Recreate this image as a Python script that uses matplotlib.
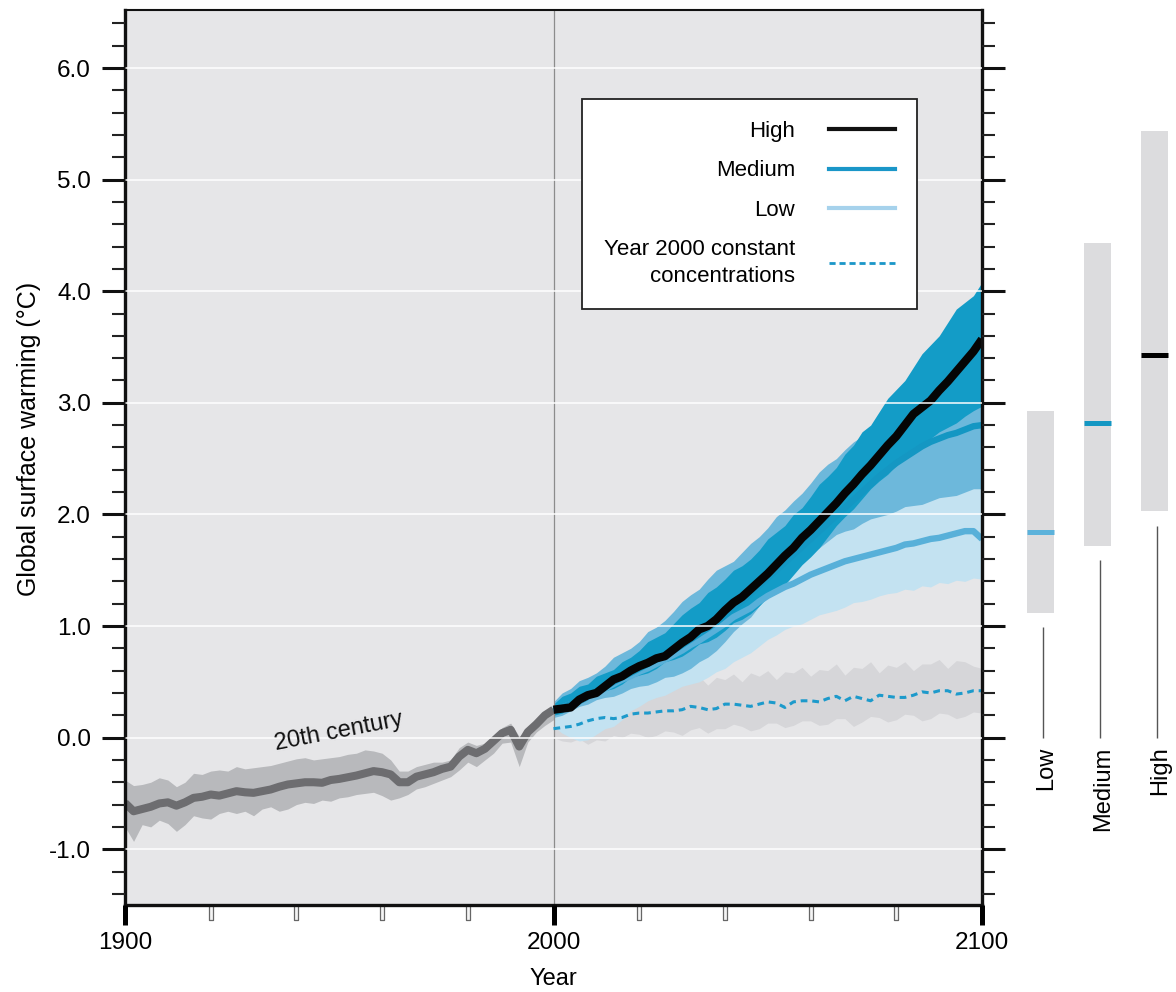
import numpy as np
import matplotlib
matplotlib.use('Agg')
import matplotlib.pyplot as plt
from matplotlib.lines import Line2D
from matplotlib.ticker import MultipleLocator, FixedLocator

plt.rcParams['font.family'] = ['Liberation Sans', 'DejaVu Sans']
plt.rcParams['axes.unicode_minus'] = False

# ---------------- data ----------------
hist_years = list(range(1900, 2001, 2))
hist_mean = [-0.585, -0.66, -0.64, -0.62, -0.59, -0.58, -0.61, -0.58, -0.54, -0.53,
             -0.51, -0.52, -0.50, -0.48, -0.49, -0.495, -0.48, -0.465, -0.44, -0.42,
             -0.41, -0.40, -0.40, -0.405, -0.38, -0.37, -0.355, -0.34, -0.32, -0.30,
             -0.31, -0.33, -0.40, -0.40, -0.35, -0.33, -0.31, -0.28, -0.26, -0.17,
             -0.11, -0.14, -0.10, -0.03, 0.04, 0.07, -0.08, 0.05, 0.12, 0.20,
             0.25]
hist_upper = [-0.38, -0.43, -0.42, -0.40, -0.36, -0.38, -0.44, -0.40, -0.32, -0.33,
              -0.30, -0.29, -0.30, -0.26, -0.28, -0.27, -0.26, -0.25, -0.23, -0.21,
              -0.19, -0.18, -0.20, -0.19, -0.18, -0.17, -0.15, -0.14, -0.11, -0.12,
              -0.14, -0.20, -0.30, -0.30, -0.26, -0.24, -0.22, -0.22, -0.20, -0.09,
              -0.04, -0.07, -0.05, 0.01, 0.09, 0.13, 0.01, 0.09, 0.15, 0.22,
              0.28]
hist_lower = [-0.80, -0.93, -0.78, -0.80, -0.74, -0.77, -0.84, -0.78, -0.70, -0.72,
              -0.73, -0.68, -0.66, -0.68, -0.66, -0.70, -0.64, -0.62, -0.66, -0.64,
              -0.60, -0.58, -0.59, -0.56, -0.57, -0.54, -0.53, -0.51, -0.50, -0.49,
              -0.52, -0.56, -0.54, -0.51, -0.46, -0.44, -0.41, -0.38, -0.35, -0.29,
              -0.22, -0.26, -0.20, -0.14, -0.05, -0.04, -0.26, -0.04, 0.05, 0.11,
              0.16]

proj_years = list(range(2000, 2101, 2))
high_mean = [0.25, 0.26, 0.27, 0.34, 0.38, 0.40, 0.46, 0.52, 0.55, 0.60,
             0.64, 0.67, 0.71, 0.73, 0.79, 0.85, 0.90, 0.97, 1.00, 1.06,
             1.14, 1.21, 1.26, 1.33, 1.40, 1.47, 1.55, 1.63, 1.70, 1.79,
             1.86, 1.94, 2.02, 2.10, 2.19, 2.27, 2.36, 2.44, 2.53, 2.62,
             2.70, 2.80, 2.90, 2.96, 3.02, 3.11, 3.19, 3.28, 3.37, 3.46,
             3.57]
medium_mean = [0.25, 0.27, 0.30, 0.34, 0.38, 0.41, 0.45, 0.50, 0.54, 0.58,
               0.62, 0.66, 0.70, 0.74, 0.78, 0.83, 0.88, 0.93, 0.98, 1.03,
               1.10, 1.16, 1.22, 1.29, 1.36, 1.43, 1.50, 1.57, 1.64, 1.71,
               1.78, 1.85, 1.92, 1.99, 2.06, 2.13, 2.20, 2.27, 2.34, 2.40,
               2.46, 2.51, 2.56, 2.61, 2.65, 2.68, 2.71, 2.73, 2.76, 2.79,
               2.80]
low_mean = [0.25, 0.27, 0.30, 0.33, 0.37, 0.40, 0.44, 0.48, 0.52, 0.55,
            0.59, 0.62, 0.66, 0.70, 0.74, 0.78, 0.83, 0.87, 0.92, 0.97,
            1.02, 1.08, 1.12, 1.16, 1.22, 1.27, 1.31, 1.35, 1.38, 1.42,
            1.46, 1.49, 1.52, 1.55, 1.58, 1.60, 1.62, 1.64, 1.66, 1.68,
            1.70, 1.73, 1.74, 1.76, 1.78, 1.79, 1.81, 1.83, 1.85, 1.85,
            1.78]
const_mean = [0.08, 0.09, 0.10, 0.12, 0.15, 0.17, 0.18, 0.17, 0.18, 0.21,
              0.22, 0.22, 0.23, 0.24, 0.24, 0.25, 0.28, 0.27, 0.25, 0.26,
              0.30, 0.30, 0.29, 0.28, 0.30, 0.32, 0.31, 0.27, 0.32, 0.33,
              0.33, 0.32, 0.35, 0.37, 0.33, 0.37, 0.35, 0.33, 0.38, 0.37,
              0.36, 0.36, 0.38, 0.41, 0.40, 0.42, 0.42, 0.39, 0.40, 0.42,
              0.42]

high_upper = [0.30, 0.37, 0.40, 0.46, 0.48, 0.55, 0.58, 0.61, 0.68, 0.72,
              0.78, 0.86, 0.90, 0.94, 1.02, 1.10, 1.16, 1.21, 1.30, 1.35,
              1.42, 1.50, 1.54, 1.60, 1.68, 1.78, 1.84, 1.90, 2.00, 2.06,
              2.16, 2.27, 2.34, 2.42, 2.54, 2.62, 2.74, 2.80, 2.92, 3.04,
              3.12, 3.20, 3.32, 3.44, 3.52, 3.60, 3.72, 3.84, 3.90, 3.96,
              4.08]
high_lower = [0.20, 0.22, 0.28, 0.30, 0.34, 0.40, 0.42, 0.44, 0.48, 0.54,
              0.56, 0.58, 0.62, 0.68, 0.70, 0.73, 0.78, 0.84, 0.86, 0.90,
              0.96, 1.03, 1.06, 1.11, 1.18, 1.26, 1.32, 1.37, 1.46, 1.55,
              1.62, 1.70, 1.80, 1.90, 1.98, 2.05, 2.14, 2.23, 2.30, 2.36,
              2.44, 2.51, 2.56, 2.61, 2.68, 2.74, 2.78, 2.82, 2.88, 2.93,
              2.97]
medium_upper = [0.32, 0.40, 0.44, 0.51, 0.54, 0.58, 0.64, 0.72, 0.76, 0.80,
                0.86, 0.95, 0.99, 1.05, 1.13, 1.22, 1.28, 1.33, 1.42, 1.50,
                1.54, 1.58, 1.66, 1.74, 1.80, 1.88, 1.98, 2.04, 2.12, 2.19,
                2.28, 2.38, 2.45, 2.50, 2.58, 2.65, 2.70, 2.74, 2.80, 2.86,
                2.90, 2.93, 2.98, 3.03, 3.06, 3.10, 3.14, 3.19, 3.22, 3.26,
                3.30]
medium_lower = [0.18, 0.20, 0.24, 0.28, 0.30, 0.34, 0.36, 0.37, 0.40, 0.44,
                0.46, 0.47, 0.50, 0.54, 0.55, 0.58, 0.62, 0.68, 0.72, 0.78,
                0.86, 0.95, 1.02, 1.08, 1.18, 1.27, 1.34, 1.42, 1.52, 1.58,
                1.66, 1.70, 1.76, 1.82, 1.85, 1.87, 1.92, 1.96, 1.98, 2.00,
                2.03, 2.07, 2.08, 2.09, 2.12, 2.15, 2.16, 2.17, 2.20, 2.23,
                2.23]
low_upper = [0.32, 0.35, 0.38, 0.41, 0.44, 0.47, 0.50, 0.53, 0.56, 0.59,
             0.62, 0.65, 0.68, 0.72, 0.75, 0.78, 0.82, 0.86, 0.90, 0.94,
             0.98, 1.03, 1.08, 1.14, 1.20, 1.28, 1.36, 1.45, 1.54, 1.61,
             1.68, 1.73, 1.78, 1.83, 1.87, 1.91, 1.94, 1.97, 2.00, 2.03,
             2.05, 2.08, 2.10, 2.12, 2.14, 2.16, 2.18, 2.20, 2.22, 2.24,
             2.25]
low_lower = [0.10, 0.04, 0.00, -0.03, -0.02, 0.03, 0.08, 0.10, 0.16, 0.24,
             0.28, 0.33, 0.36, 0.38, 0.42, 0.46, 0.48, 0.50, 0.54, 0.59,
             0.62, 0.68, 0.72, 0.76, 0.82, 0.88, 0.92, 0.97, 1.00, 1.02,
             1.06, 1.10, 1.12, 1.14, 1.17, 1.21, 1.22, 1.24, 1.27, 1.29,
             1.30, 1.33, 1.32, 1.36, 1.35, 1.39, 1.38, 1.41, 1.40, 1.43,
             1.42]
const_upper = [0.20, 0.25, 0.28, 0.34, 0.30, 0.36, 0.34, 0.40, 0.38, 0.44,
               0.40, 0.47, 0.42, 0.49, 0.46, 0.52, 0.50, 0.55, 0.47, 0.54,
               0.52, 0.57, 0.50, 0.58, 0.55, 0.60, 0.52, 0.59, 0.58, 0.63,
               0.55, 0.61, 0.60, 0.66, 0.56, 0.63, 0.62, 0.68, 0.58, 0.65,
               0.63, 0.68, 0.60, 0.66, 0.66, 0.70, 0.62, 0.69, 0.68, 0.64,
               0.62]
const_lower = [0.00, -0.03, -0.04, -0.01, -0.06, -0.02, -0.03, 0.02, 0.00, 0.04,
               0.03, 0.00, 0.02, 0.06, 0.05, 0.02, 0.07, 0.09, 0.04, 0.08,
               0.08, 0.12, 0.10, 0.06, 0.08, 0.13, 0.13, 0.09, 0.11, 0.15,
               0.15, 0.11, 0.12, 0.17, 0.17, 0.10, 0.14, 0.19, 0.18, 0.14,
               0.16, 0.21, 0.20, 0.15, 0.17, 0.22, 0.21, 0.17, 0.19, 0.23,
               0.22]

scenario_names = ['Low', 'Medium', 'High']
scenario_best = [1.84, 2.82, 3.43]
scenario_range_low = [1.12, 1.72, 2.03]
scenario_range_high = [2.93, 4.43, 5.44]
scenario_colors = ['#5cb2db', '#1497c3', '#000000']

legend_labels = ['High', 'Medium', 'Low', 'Year 2000 constant\nconcentrations']

x_major = [1900, 2000, 2100]
x_minor = [1920, 1940, 1960, 1980, 2020, 2040, 2060, 2080]
y_major = [-1, 0, 1, 2, 3, 4, 5, 6]

# ---------------- figure ----------------
W, H = 1176, 992
fig = plt.figure(figsize=(W / 100, H / 100), dpi=100)
ax = fig.add_axes([125 / W, 87 / H, 857 / W, 895 / H])
ax.set_facecolor('#e6e6e8')
ymin, ymax = -1.5, 6.52
ax.set_xlim(1900, 2100)
ax.set_ylim(ymin, ymax)

# 20th century
ax.fill_between(hist_years, hist_lower, hist_upper, color='#b8b9bc', lw=0, zorder=1)
ax.plot(hist_years, hist_mean, color='#6d6d70', lw=5.8, solid_capstyle='butt',
        solid_joinstyle='round', zorder=2)

# projections: bands
ax.fill_between(proj_years, const_lower, const_upper, color='#d6d6d9', lw=0, zorder=1)
ax.fill_between(proj_years, low_lower, low_upper, color='#c3e2f1', lw=0, zorder=1.1)
ax.fill_between(proj_years, medium_lower, medium_upper, color='#6db8db', lw=0, zorder=1.2)
ax.fill_between(proj_years, high_lower, high_upper, color='#139cc7', lw=0, zorder=1.3)

ax.axvline(2000, color='#8c8c8c', lw=0.9, zorder=1.4)

# projection lines
ax.plot(proj_years, const_mean, color='#1d9acb', lw=2.2, ls=(0, (2.2, 1.6)), zorder=2)
ax.plot(proj_years, low_mean, color='#58b0d9', lw=4.6, solid_capstyle='butt',
        solid_joinstyle='round', zorder=2.1)
ax.plot(proj_years, medium_mean, color='#1497c3', lw=4.6, solid_capstyle='butt',
        solid_joinstyle='round', zorder=2.2)
ax.plot(proj_years, high_mean, color='#050505', lw=6.0, solid_capstyle='butt',
        solid_joinstyle='round', zorder=2.3)

ax.text(1950, 0.05, '20th century', rotation=11, ha='center', va='center',
        fontsize=17, color='#111111', zorder=3)

# grid on top
ax.set_axisbelow(False)
ax.yaxis.set_major_locator(FixedLocator(y_major))
ax.yaxis.set_minor_locator(MultipleLocator(0.2))
ax.grid(axis='y', which='major', color='white', lw=1.2, alpha=0.9)
ax.set_yticklabels(['%.1f' % v for v in y_major])

ax.xaxis.set_major_locator(FixedLocator(x_major))
ax.set_xticklabels([str(v) for v in x_major])

ax.tick_params(axis='y', which='major', left=True, right=True, direction='out',
               length=16.5, width=2.2, labelsize=17.5, pad=8, color='#111111')
ax.tick_params(axis='y', which='minor', left=True, right=True, direction='out',
               length=9.5, width=1.5, color='#222222')
ax.tick_params(axis='x', which='major', direction='out', length=14.5, width=3.6,
               labelsize=17.5, pad=5, color='#000000')
ax.tick_params(axis='x', which='minor', bottom=False)

# hollow minor x ticks
tick_marker = [(-0.16, 0.0), (0.16, 0.0), (0.16, -1.0), (-0.16, -1.0), (-0.16, 0.0)]
ax.plot(x_minor, [0.0] * len(x_minor), transform=ax.get_xaxis_transform(),
        ls='none', marker=tick_marker, markersize=21, mfc='#f4f4f4', mec='#666666',
        mew=0.9, clip_on=False, zorder=1.9)

for side, lw in [('left', 2.4), ('right', 2.4), ('bottom', 2.4), ('top', 1.5)]:
    ax.spines[side].set_linewidth(lw)
    ax.spines[side].set_color('#111111')

ax.set_xlabel('Year', fontsize=17, labelpad=10)
ax.set_ylabel('Global surface warming (°C)', fontsize=18)
ax.yaxis.set_label_coords(-0.098, 0.521)

# legend
handles = [Line2D([], [], color='#111111', lw=3.0),
           Line2D([], [], color='#1a96c8', lw=3.0),
           Line2D([], [], color='#a6d2ec', lw=3.0),
           Line2D([], [], color='#1a96c8', lw=2.0, ls=(0, (2.2, 1.4)))]
leg = ax.legend(handles, legend_labels, loc='upper left', bbox_to_anchor=(0.533, 0.9006),
                markerfirst=False, frameon=True, fancybox=False, edgecolor='#222222',
                framealpha=1, fontsize=16, handlelength=3.0, handletextpad=1.5,
                labelspacing=0.82, borderpad=1.0, borderaxespad=0)
leg.get_frame().set_linewidth(1.3)
leg.set_zorder(10)
for t in leg.get_texts():
    t.set_multialignment('right')
    t.set_linespacing(1.4)

# right-hand range bars
ax2 = fig.add_axes([1000 / W, 87 / H, 176 / W, 895 / H])
ax2.set_xlim(-0.71, 2.38)
ax2.set_ylim(ymin, ymax)
ax2.axis('off')
xpos = np.arange(len(scenario_names))
heights = [h - l for h, l in zip(scenario_range_high, scenario_range_low)]
ax2.bar(xpos, heights, bottom=scenario_range_low, width=0.47, color='#dcdcde', lw=0)
for xi, b, c in zip(xpos, scenario_best, scenario_colors):
    ax2.hlines(b, xi - 0.235, xi + 0.235, colors=c, lw=3.6)
ax2.vlines(xpos + 0.04, [0.0] * len(xpos), [l - 0.13 for l in scenario_range_low],
           colors='#555555', lw=1.0)
for xi, name in zip(xpos, scenario_names):
    ax2.text(xi + 0.1, -0.08, name, rotation=90, ha='center', va='top', fontsize=17)

fig.savefig('out.png', dpi=100)
